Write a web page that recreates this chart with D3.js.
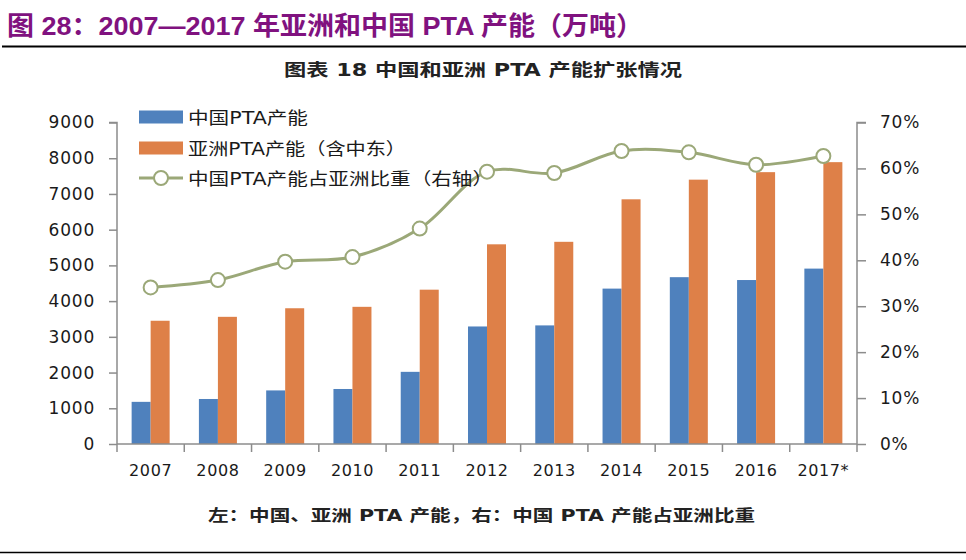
<!DOCTYPE html>
<html>
<head>
<meta charset="utf-8">
<script src="https://cdn.jsdelivr.net/npm/d3@7/dist/d3.min.js"></script>
<style>
  html, body { margin: 0; padding: 0; background: #fff; }
  svg { display: block; }
</style>
</head>
<body>
<svg id="chart" width="966" height="560"></svg>
<script>
// ---- data ----
const categories = ["2007","2008","2009","2010","2011","2012","2013","2014","2015","2016","2017*"];
const chinaCapacity = [1180, 1260, 1500, 1540, 2020, 3290, 3320, 4350, 4670, 4590, 4910];
const asiaCapacity  = [3450, 3560, 3800, 3840, 4320, 5590, 5660, 6850, 7400, 7610, 7890];
const chinaShare    = [0.341, 0.357, 0.397, 0.407, 0.469, 0.593, 0.590, 0.638, 0.635, 0.608, 0.627];
const leftTicks  = [0,1000,2000,3000,4000,5000,6000,7000,8000,9000];
const rightTicks = [0,0.1,0.2,0.3,0.4,0.5,0.6,0.7];
const seriesNames = ["中国PTA产能", "亚洲PTA产能（含中东）", "中国PTA产能占亚洲比重（右轴）"];
const titleText = "图 28：2007—2017 年亚洲和中国 PTA 产能（万吨）";
const subtitleText = "图表 18  中国和亚洲 PTA 产能扩张情况";
const footerText = "左：中国、亚洲 PTA 产能，右：中国 PTA 产能占亚洲比重";

// ---- layout ----
const svg = d3.select("#chart");
const pLeft = 117, pRight = 857, pTop = 122.5, pBottom = 444;
const BLUE = "#4F81BD", ORANGE = "#DE8048", LINE = "#9BA878", AXIS = "#8c8c8c", TXT = "#1a1a1a";
const numFont = "'DejaVu Sans', Verdana, sans-serif";
const cjkFont = "'DejaVu Sans','Noto Sans CJK SC', sans-serif";

// Title
svg.append("text")
  .attr("x", 7).attr("y", 35)
  .attr("font-family", "'Liberation Sans','Noto Sans CJK SC', sans-serif")
  .attr("font-weight", "bold").attr("font-size", 26)
  .attr("fill", "#80127F")
  .attr("textLength", 636).attr("lengthAdjust", "spacingAndGlyphs")
  .text(titleText);
svg.append("line").attr("x1", 2).attr("x2", 966).attr("y1", 46.5).attr("y2", 46.5)
  .attr("stroke", "#000").attr("stroke-width", 2);

// Subtitle
svg.append("text")
  .attr("x", 284).attr("y", 76)
  .attr("font-family", "'DejaVu Sans','Noto Sans CJK SC', sans-serif")
  .attr("font-weight", "bold").attr("font-size", 17).attr("fill", "#222")
  .attr("textLength", 398).attr("lengthAdjust", "spacingAndGlyphs")
  .text(subtitleText);

// Footer
svg.append("text")
  .attr("x", 208).attr("y", 521)
  .attr("font-family", "'DejaVu Sans','Noto Sans CJK SC', sans-serif")
  .attr("font-weight", "bold").attr("font-size", 16).attr("fill", "#222")
  .attr("textLength", 547).attr("lengthAdjust", "spacingAndGlyphs")
  .text(footerText);
svg.append("line").attr("x1", 0).attr("x2", 966).attr("y1", 552.5).attr("y2", 552.5)
  .attr("stroke", "#000").attr("stroke-width", 1.5);

// ---- scales ----
const x = d3.scaleBand().domain(categories).range([pLeft, pRight]).padding(0);
const xSub = d3.scaleBand().domain(["china","asia"]).range([0, x.bandwidth()]).paddingInner(0).paddingOuter(0.77);
const yL = d3.scaleLinear().domain([0, 9000]).range([pBottom, pTop]);
const yR = d3.scaleLinear().domain([0, 0.7]).range([pBottom, pTop]);

// ---- bars ----
const g = svg.append("g");
const rows = categories.map((c, i) => ({c, china: chinaCapacity[i], asia: asiaCapacity[i], share: chinaShare[i]}));
g.selectAll("rect.china").data(rows).join("rect").attr("class","china")
  .attr("x", d => x(d.c) + xSub("china")).attr("width", xSub.bandwidth())
  .attr("y", d => yL(d.china)).attr("height", d => pBottom - yL(d.china))
  .attr("fill", BLUE);
g.selectAll("rect.asia").data(rows).join("rect").attr("class","asia")
  .attr("x", d => x(d.c) + xSub("asia")).attr("width", xSub.bandwidth())
  .attr("y", d => yL(d.asia)).attr("height", d => pBottom - yL(d.asia))
  .attr("fill", ORANGE);

// ---- axes ----
const axL = svg.append("g").attr("transform", `translate(${pLeft},0)`)
  .call(d3.axisLeft(yL).tickValues(leftTicks).tickFormat(d3.format("d")).tickSize(8).tickPadding(14));
const axR = svg.append("g").attr("transform", `translate(${pRight},0)`)
  .call(d3.axisRight(yR).tickValues(rightTicks).tickFormat(d3.format(".0%")).tickSize(9).tickPadding(14));
[axL, axR].forEach(a => {
  a.select(".domain").attr("stroke", AXIS).attr("stroke-width", 1.5);
  a.selectAll(".tick line").attr("stroke", AXIS).attr("stroke-width", 1.5);
  a.selectAll(".tick text").attr("font-family", numFont).attr("font-size", 17)
    .attr("fill", TXT).attr("letter-spacing", 0.8);
});
axL.select(".domain").attr("d", `M-8,${pTop}H0V${pBottom}`);
axR.select(".domain").attr("d", `M9,${pTop}H0V${pBottom}`);

// bottom axis: labels centred, ticks at band boundaries
const axB = svg.append("g").attr("transform", `translate(0,${pBottom})`)
  .call(d3.axisBottom(x).tickSize(0).tickPadding(21));
axB.select(".domain").attr("stroke", AXIS).attr("stroke-width", 1.5).attr("d", `M${pLeft},0H${pRight}`);
axB.selectAll(".tick text").attr("font-family", numFont).attr("font-size", 16).attr("fill", TXT)
  .attr("letter-spacing", 0.6);
const boundaries = categories.map(c => x(c)).concat([x.range()[1]]);
axB.selectAll("line.bt").data(boundaries).join("line").attr("class","bt")
  .attr("x1", d => d).attr("x2", d => d).attr("y1", 0).attr("y2", 8)
  .attr("stroke", AXIS).attr("stroke-width", 1.5);

// ---- line ----
const lineGen = d3.line().x(d => x(d.c) + x.bandwidth()/2).y(d => yR(d.share)).curve(d3.curveCatmullRom.alpha(0.5));
svg.append("path").datum(rows).attr("d", lineGen)
  .attr("fill", "none").attr("stroke", LINE).attr("stroke-width", 3);
svg.selectAll("circle.pt").data(rows).join("circle").attr("class","pt")
  .attr("cx", d => x(d.c) + x.bandwidth()/2).attr("cy", d => yR(d.share)).attr("r", 7)
  .attr("fill", "#fff").attr("stroke", LINE).attr("stroke-width", 2);

// ---- legend ----
const lg = svg.append("g");
const legX = 139, legW = 44, textX = 188;
const legRows = [117, 148, 178];
const legLens = [120, 218, 305];
lg.append("rect").attr("x", legX).attr("y", legRows[0]-6.5).attr("width", legW).attr("height", 13).attr("fill", BLUE);
lg.append("rect").attr("x", legX).attr("y", legRows[1]-6.5).attr("width", legW).attr("height", 13).attr("fill", ORANGE);
lg.append("line").attr("x1", legX).attr("x2", legX+legW).attr("y1", legRows[2]).attr("y2", legRows[2])
  .attr("stroke", LINE).attr("stroke-width", 3);
lg.append("circle").attr("cx", legX+legW/2).attr("cy", legRows[2]).attr("r", 7)
  .attr("fill", "#fff").attr("stroke", LINE).attr("stroke-width", 2);
seriesNames.forEach((s, i) => {
  lg.append("text").attr("x", textX).attr("y", legRows[i] + 6.5)
    .attr("font-family", cjkFont).attr("font-size", 17).attr("fill", TXT)
    .attr("textLength", legLens[i]).attr("lengthAdjust", "spacingAndGlyphs")
    .text(s);
});
</script>
</body>
</html>
